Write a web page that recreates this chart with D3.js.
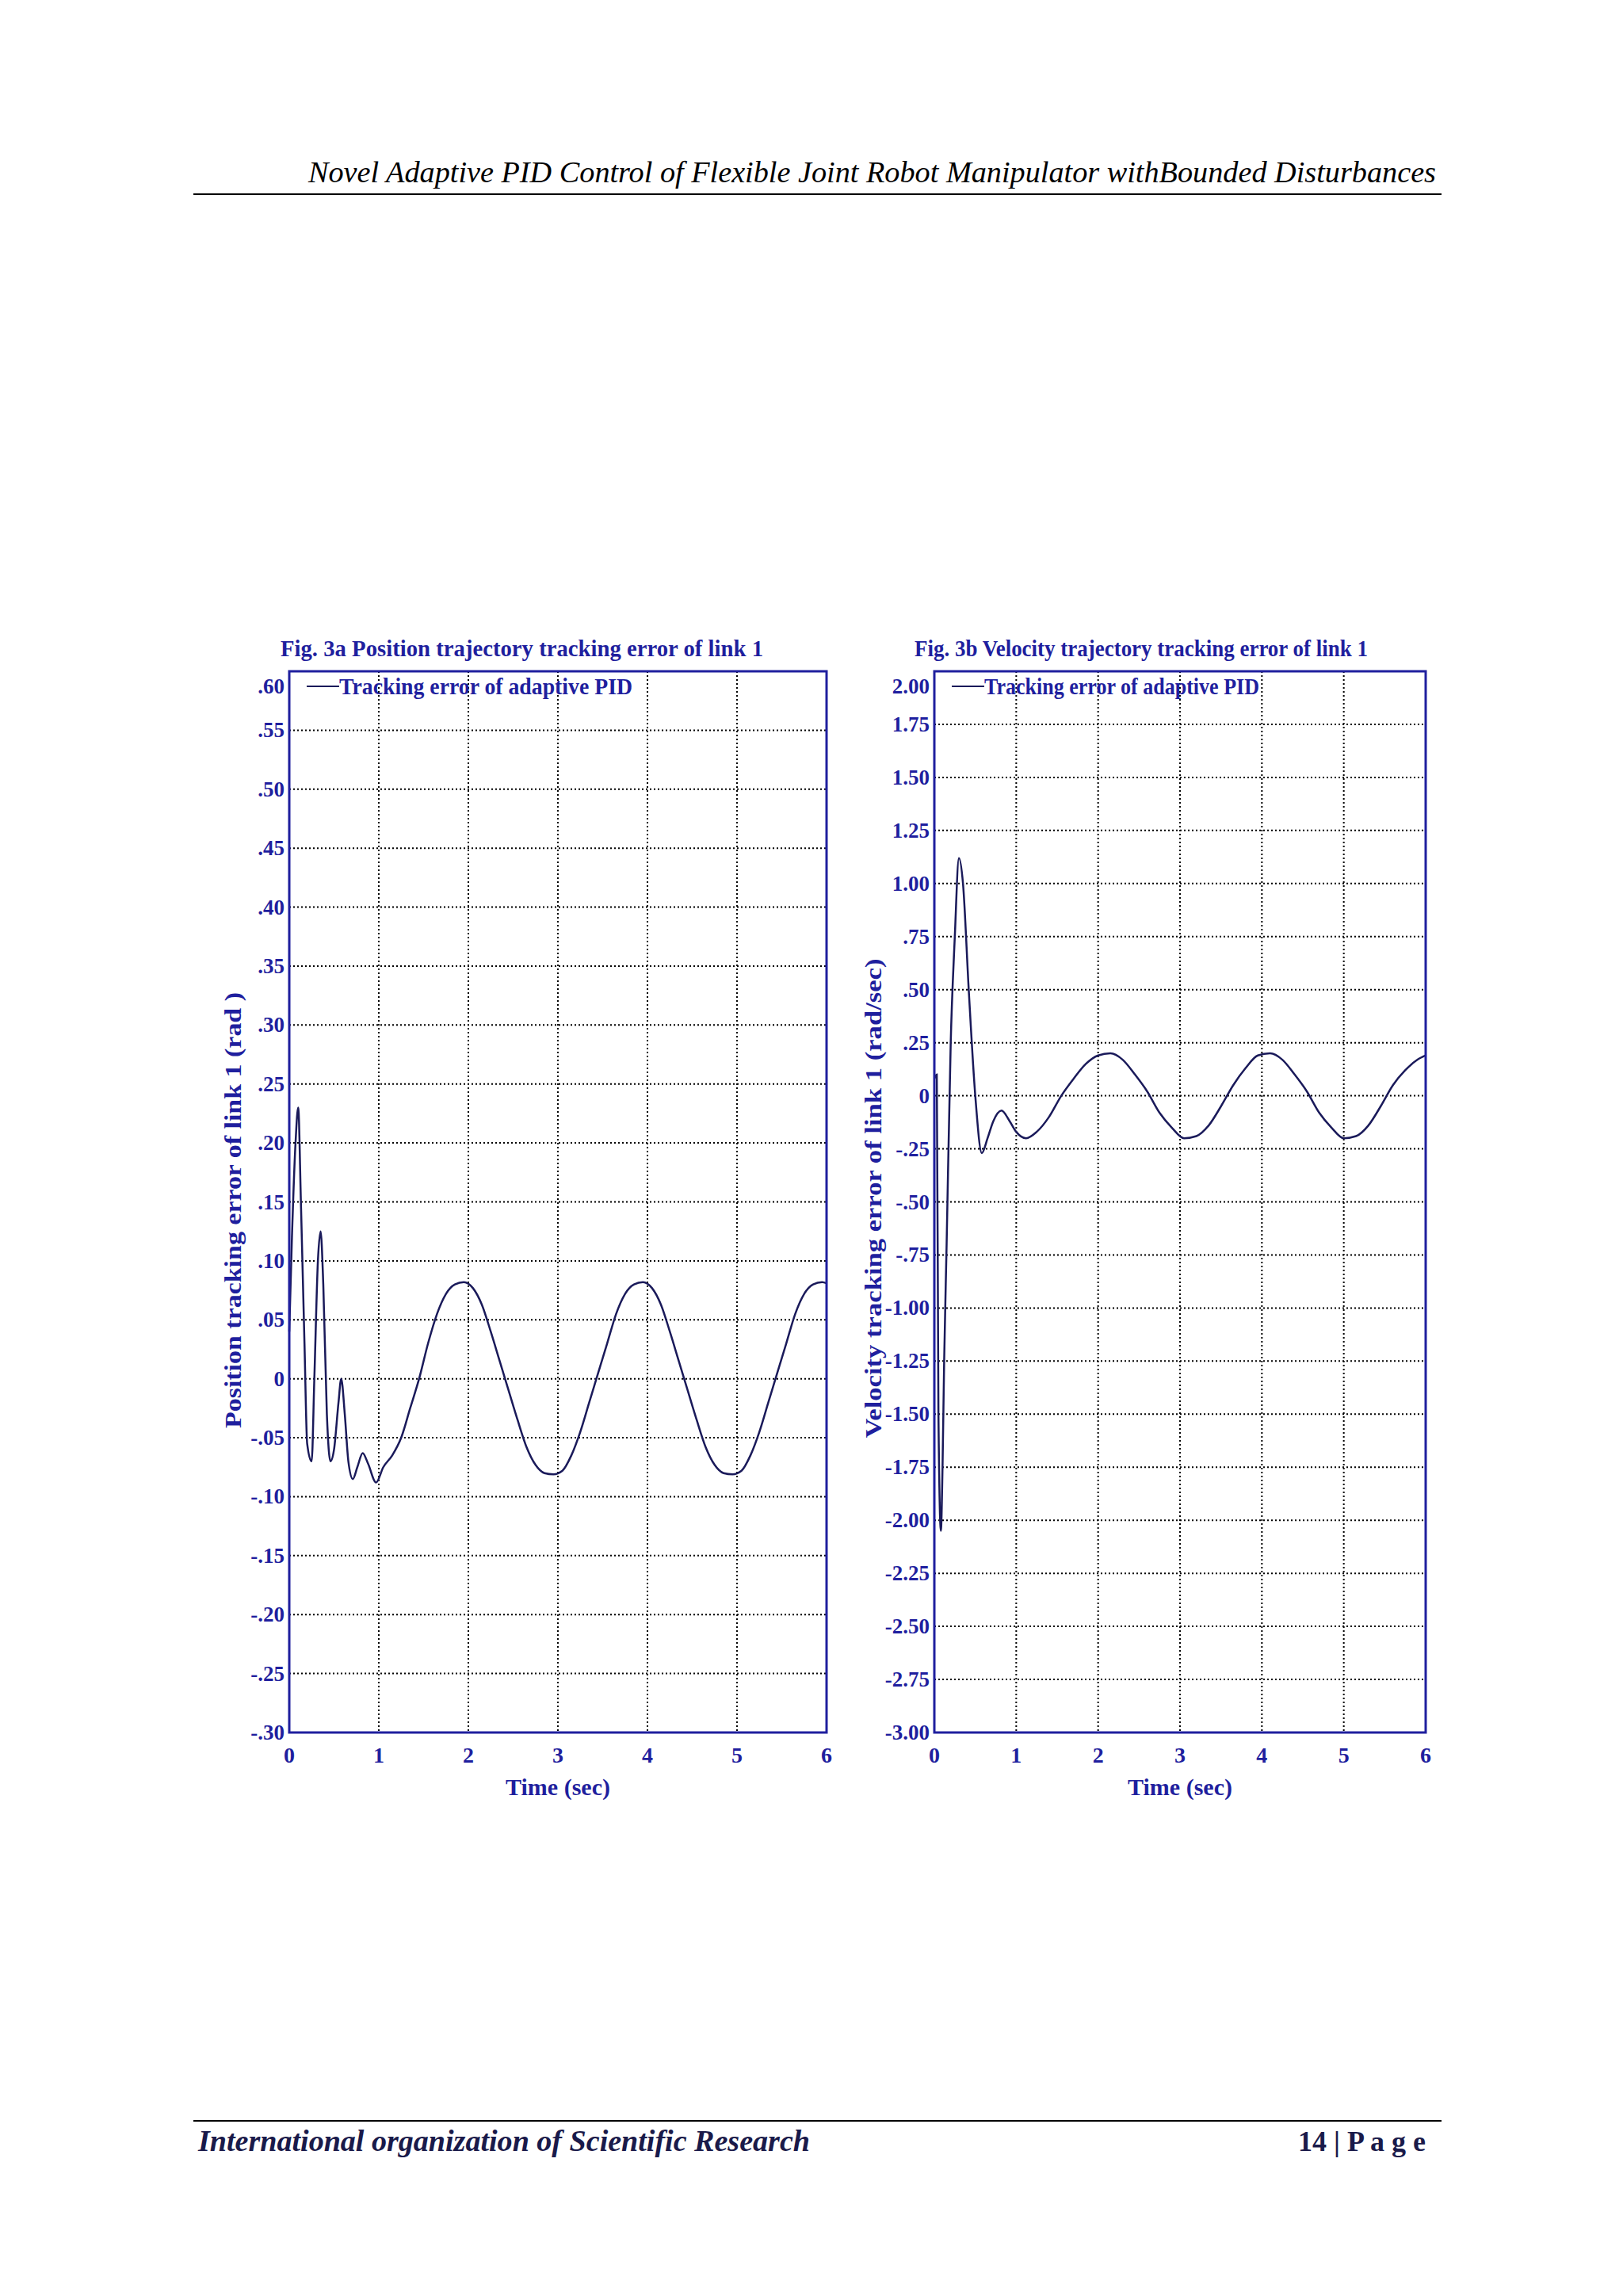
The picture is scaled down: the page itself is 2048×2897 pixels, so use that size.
<!DOCTYPE html>
<html><head><meta charset="utf-8">
<script src="https://cdn.jsdelivr.net/npm/d3@7"></script>
<style>body{margin:0;background:#fff}</style>
</head><body>
<svg id="page" width="2048" height="2897"></svg>
<script>
// position error of link 1 (rad)
var posT = [0,0.03,0.07,0.1,0.13,0.17,0.2,0.25,0.28,0.32,0.35,0.38,0.42,0.46,0.5,0.55,0.58,0.62,0.66,0.71,0.76,0.82,0.88,0.97,1.05,1.15,1.25,1.35,1.45,1.55,1.65,1.75,1.85,1.95,2.05,2.15,2.25,2.35,2.45,2.55,2.65,2.75,2.85,2.95,3.05,3.15,3.25,3.35,3.45,3.55,3.65,3.75,3.85,3.95,4.05,4.15,4.25,4.35,4.45,4.55,4.65,4.75,4.85,4.95,5.05,5.15,5.25,5.35,5.45,5.55,5.65,5.75,5.85,5.95,6.0];
var posV = [0.04,0.12,0.2,0.23,0.15,0.03,-0.055,-0.07,0.0,0.1,0.125,0.08,-0.03,-0.07,-0.06,-0.02,0.0,-0.03,-0.07,-0.085,-0.075,-0.063,-0.072,-0.088,-0.075,-0.065,-0.05,-0.025,0.0,0.03,0.055,0.072,0.08,0.082,0.077,0.063,0.04,0.015,-0.01,-0.035,-0.058,-0.073,-0.08,-0.081,-0.078,-0.065,-0.045,-0.02,0.005,0.03,0.055,0.072,0.08,0.082,0.077,0.063,0.04,0.015,-0.01,-0.035,-0.058,-0.073,-0.08,-0.081,-0.078,-0.065,-0.045,-0.02,0.005,0.03,0.055,0.072,0.08,0.082,0.081];
// velocity error of link 1 (rad/sec)
var velT = [0,0.03,0.05,0.08,0.1,0.12,0.15,0.2,0.25,0.3,0.35,0.42,0.5,0.58,0.65,0.72,0.82,0.92,1.0,1.12,1.25,1.4,1.55,1.7,1.85,2.0,2.15,2.3,2.45,2.6,2.75,2.9,3.05,3.2,3.35,3.5,3.65,3.8,3.95,4.1,4.25,4.4,4.55,4.7,4.85,5.0,5.15,5.3,5.45,5.6,5.75,5.9,6.0];
var velV = [0.08,0.1,-1.5,-2.05,-1.75,-1.25,-0.7,0.25,0.75,1.12,1.0,0.5,0.0,-0.27,-0.2,-0.12,-0.07,-0.12,-0.17,-0.2,-0.17,-0.1,0.0,0.08,0.15,0.19,0.2,0.17,0.1,0.02,-0.08,-0.15,-0.2,-0.19,-0.14,-0.05,0.05,0.13,0.19,0.2,0.17,0.1,0.02,-0.08,-0.15,-0.2,-0.19,-0.14,-0.05,0.05,0.12,0.17,0.19];

var xTicks = [0,1,2,3,4,5,6];
var posTicks = [0.6,0.55,0.5,0.45,0.4,0.35,0.3,0.25,0.2,0.15,0.1,0.05,0,-0.05,-0.1,-0.15,-0.2,-0.25,-0.3];
var posLabels = [".60",".55",".50",".45",".40",".35",".30",".25",".20",".15",".10",".05","0","-.05","-.10","-.15","-.20","-.25","-.30"];
var velTicks = [2,1.75,1.5,1.25,1,0.75,0.5,0.25,0,-0.25,-0.5,-0.75,-1,-1.25,-1.5,-1.75,-2,-2.25,-2.5,-2.75,-3];
var velLabels = ["2.00","1.75","1.50","1.25","1.00",".75",".50",".25","0","-.25","-.50","-.75","-1.00","-1.25","-1.50","-1.75","-2.00","-2.25","-2.50","-2.75","-3.00"];

var blue = "#1f1f9e", serif = "'Liberation Serif','DejaVu Serif',serif";
var svg = d3.select('#page');

// page header / footer
svg.append('text').attr('x', 1812).attr('y', 230).attr('text-anchor', 'end')
  .attr('font-family', serif).attr('font-style', 'italic').attr('font-size', 38)
  .attr('textLength', 1423).attr('lengthAdjust', 'spacingAndGlyphs')
  .text('Novel Adaptive PID Control of Flexible Joint Robot Manipulator withBounded Disturbances');
svg.append('line').attr('x1', 244).attr('x2', 1819).attr('y1', 245).attr('y2', 245).attr('stroke', '#000').attr('stroke-width', 2);
svg.append('line').attr('x1', 244).attr('x2', 1819).attr('y1', 2676).attr('y2', 2676).attr('stroke', '#000').attr('stroke-width', 2);
svg.append('text').attr('x', 250).attr('y', 2714).attr('font-family', serif).attr('font-style', 'italic')
  .attr('font-weight', 'bold').attr('font-size', 37).attr('fill', '#1a1a4a')
  .attr('textLength', 772).attr('lengthAdjust', 'spacingAndGlyphs').text('International organization of Scientific Research');
svg.append('text').attr('x', 1799).attr('y', 2714).attr('text-anchor', 'end').attr('font-family', serif)
  .attr('font-weight', 'bold').attr('font-size', 36).attr('fill', '#1a1a4a').text('14 | P a g e');

function drawChart(o) {
  var x = d3.scaleLinear().domain([0, 6]).range([o.x0, o.x1]);
  var y = d3.scaleLinear().domain(o.domain).range([2186, 847]);
  var g = svg.append('g');

  g.selectAll('.hg').data(o.ticks).enter().append('line')
    .attr('x1', o.x0).attr('x2', o.x1).attr('y1', d => y(d)).attr('y2', d => y(d))
    .attr('stroke', '#000').attr('stroke-width', 2).attr('stroke-dasharray', '2,3');
  g.selectAll('.vg').data(xTicks.slice(1, -1)).enter().append('line')
    .attr('x1', d => x(d)).attr('x2', d => x(d)).attr('y1', 847).attr('y2', 2186)
    .attr('stroke', '#000').attr('stroke-width', 2).attr('stroke-dasharray', '2,3');

  var line = d3.line().x(d => x(d[0])).y(d => y(d[1])).curve(d3.curveMonotoneX);
  g.append('path').datum(d3.zip(o.t, o.v)).attr('d', line)
    .attr('fill', 'none').attr('stroke', '#1a1a5a').attr('stroke-width', 2.5);

  g.append('rect').attr('x', o.x0).attr('y', 847).attr('width', o.x1 - o.x0).attr('height', 2186 - 847)
    .attr('fill', 'none').attr('stroke', blue).attr('stroke-width', 3);

  // y tick labels
  g.selectAll('.yl').data(o.ticks).enter().append('text')
    .attr('x', o.x0 - 6).attr('y', (d, i) => i === 0 ? y(d) + 28 : y(d) + 9)
    .attr('text-anchor', 'end').attr('font-family', serif).attr('font-weight', 'bold')
    .attr('font-size', 27).attr('fill', blue).text((d, i) => o.labels[i]);
  // x tick labels
  g.selectAll('.xl').data(xTicks).enter().append('text')
    .attr('x', d => x(d)).attr('y', 2224).attr('text-anchor', 'middle').attr('font-family', serif)
    .attr('font-weight', 'bold').attr('font-size', 28).attr('fill', blue).text(d => d);
  g.append('text').attr('x', (o.x0 + o.x1) / 2).attr('y', 2265).attr('text-anchor', 'middle')
    .attr('font-family', serif).attr('font-weight', 'bold').attr('font-size', 30).attr('fill', blue).text('Time (sec)');

  g.append('text').attr('x', o.titleX).attr('y', 828).attr('font-family', serif).attr('font-weight', 'bold')
    .attr('font-size', 30).attr('fill', blue).attr('textLength', o.titleW).attr('lengthAdjust', 'spacingAndGlyphs').text(o.title);

  g.append('line').attr('x1', o.x0 + 22).attr('x2', o.x0 + 63).attr('y1', 866).attr('y2', 866).attr('stroke', '#1a1a5a').attr('stroke-width', 2);
  g.append('text').attr('x', o.x0 + 63).attr('y', 876).attr('font-family', serif).attr('font-weight', 'bold')
    .attr('font-size', 29).attr('fill', blue).attr('textLength', o.legW).attr('lengthAdjust', 'spacingAndGlyphs')
    .text('Tracking error of adaptive PID');

  g.append('text').attr('transform', 'translate(' + o.labX + ',' + o.labY + ') rotate(-90)')
    .attr('text-anchor', 'middle').attr('font-family', serif).attr('font-weight', 'bold')
    .attr('font-size', 30).attr('fill', blue).attr('textLength', o.labW).attr('lengthAdjust', 'spacingAndGlyphs').text(o.ylabel);
}

drawChart({x0: 365, x1: 1043, domain: [-0.3, 0.6], ticks: posTicks, labels: posLabels, t: posT, v: posV,
  title: 'Fig. 3a Position  trajectory tracking error of link 1', titleX: 354, titleW: 609, legW: 370,
  ylabel: 'Position  tracking error of link 1 (rad )', labX: 304, labY: 1527, labW: 550});
drawChart({x0: 1179, x1: 1799, domain: [-3, 2], ticks: velTicks, labels: velLabels, t: velT, v: velV,
  title: 'Fig. 3b Velocity  trajectory tracking error of link 1', titleX: 1154, titleW: 572, legW: 347,
  ylabel: 'Velocity tracking error of link 1 (rad/sec)', labX: 1112, labY: 1512, labW: 605});
</script>
</body></html>
